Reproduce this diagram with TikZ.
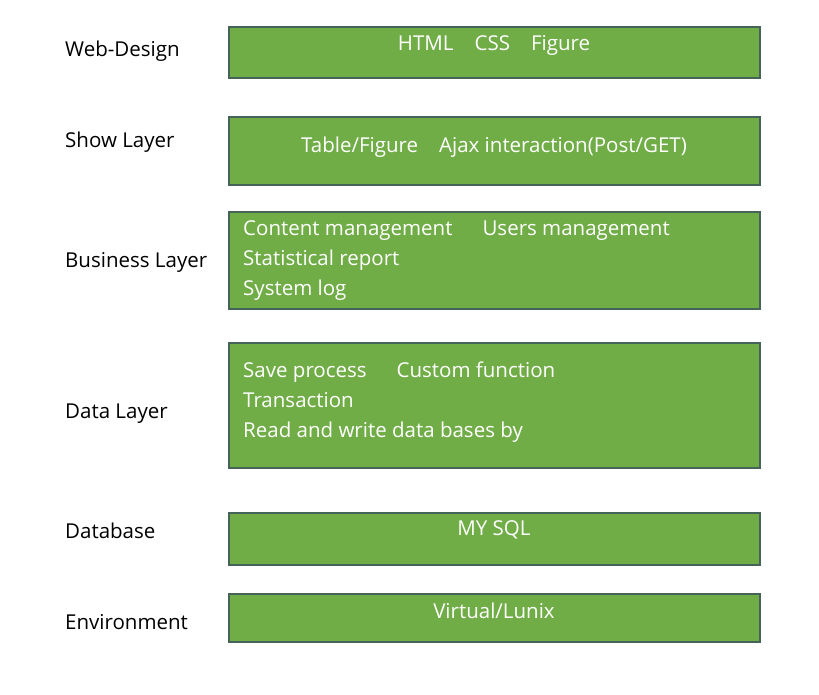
\documentclass[tikz,border=0pt]{standalone}
\usepackage{fontspec}
\setmainfont{Open Sans}
\usetikzlibrary{positioning}
\definecolor{layergreen}{HTML}{70AD47}
\definecolor{layerline}{HTML}{46635A}
\tikzset{
  layer/.style={draw=layerline, line width=1.4pt, fill=layergreen},
  lname/.style={anchor=base west, font=\fontsize{20.5}{24}\selectfont, text=black, inner sep=0pt},
  ltext/.style={anchor=base west, font=\fontsize{20.5}{24}\selectfont, text=white, inner sep=0pt},
  ctext/.style={anchor=base, font=\fontsize{20.5}{24}\selectfont, text=white, inner sep=0pt}
}
\begin{document}
\begin{tikzpicture}[x=1pt, y=-1pt]
\useasboundingbox (0,0) rectangle (819,694);
\draw [layer] (229,27) rectangle (760,78); % web design
\draw [layer] (229,117) rectangle (760,185); % show layer
\draw [layer] (229,212) rectangle (760,309); % business layer
\draw [layer] (229,343) rectangle (760,468); % data layer
\draw [layer] (229,513) rectangle (760,565); % database
\draw [layer] (229,594) rectangle (760,642); % environment
\draw (65,56) node[lname] (webname) {Web-Design};
\draw (65,147) node[lname] (showname) {Show Layer};
\draw (65,267) node[lname] (busname) {Business Layer};
\draw (65,418) node[lname] (dataname) {Data Layer};
\draw (65,538) node[lname] (dbname) {Database};
\draw (65,629) node[lname] (envname) {Environment};
\draw (494,50) node[ctext] (web) {HTML\hspace{21pt}CSS\hspace{21pt}Figure};
\draw (494,152) node[ctext] (show) {Table/Figure\hspace{21pt}Ajax interaction(Post/GET)};
\draw (243,235) node[ltext] (bus1) {Content management\hspace{30pt}Users management};
\draw (243,265) node[ltext] (bus2) {Statistical report};
\draw (243,295) node[ltext] (bus3) {System log};
\draw (243,377) node[ltext] (data1) {Save process\hspace{30pt}Custom function};
\draw (243,407) node[ltext] (data2) {Transaction};
\draw (243,437) node[ltext] (data3) {Read and write data bases by};
\draw (494,535) node[ctext] (db) {MY SQL};
\draw (494,618) node[ctext] (env) {Virtual/Lunix};
\end{tikzpicture}
\end{document}
